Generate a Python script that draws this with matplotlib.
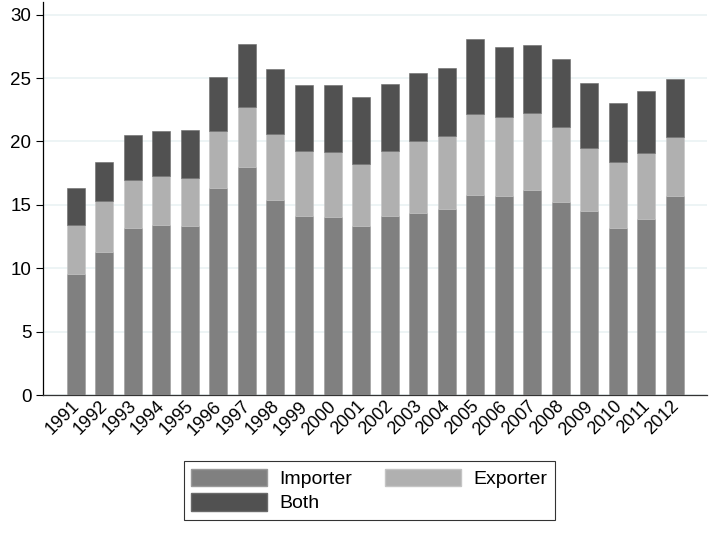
import numpy as np
import matplotlib
matplotlib.use('Agg')
import matplotlib.pyplot as plt
import matplotlib.transforms as mtransforms
from matplotlib.patches import Patch

plt.rcParams['font.family'] = ['Liberation Sans', 'DejaVu Sans']

years = [str(y) for y in range(1991, 2013)]
# cumulative tops
importer = [9.55, 11.28, 13.17, 13.41, 13.33, 16.33, 17.99, 15.38, 14.15, 14.02, 13.31,
            14.09, 14.36, 14.67, 15.78, 15.67, 16.20, 15.25, 14.51, 13.15, 13.91, 15.72]
imp_exp = [13.44, 15.28, 16.99, 17.28, 17.12, 20.80, 22.69, 20.62, 19.22, 19.14, 18.22,
           19.25, 20.04, 20.40, 22.17, 21.90, 22.22, 21.11, 19.51, 18.35, 19.09, 20.33]
total = [16.33, 18.38, 20.48, 20.83, 20.88, 25.11, 27.66, 25.74, 24.45, 24.45, 23.48,
         24.56, 25.40, 25.80, 28.08, 27.43, 27.58, 26.48, 24.61, 23.06, 24.01, 24.93]

exporter = np.array(imp_exp) - np.array(importer)
both = np.array(total) - np.array(imp_exp)

c_imp = '#808080'
c_exp = '#b0b0b0'
c_both = '#515151'

fig = plt.figure(figsize=(7.24, 5.45), dpi=100)
ax = fig.add_axes([0.0598, 0.2752, 0.9167, 0.7211])

x = np.arange(len(years))
w = 0.63
ax.bar(x, importer, w, color=c_imp, edgecolor='#9a9a9a', linewidth=0.4, zorder=3)
ax.bar(x, exporter, w, bottom=importer, color=c_exp, edgecolor='#c4c4c4', linewidth=0.4, zorder=3)
ax.bar(x, both, w, bottom=imp_exp, color=c_both, edgecolor='#6a6a6a', linewidth=0.4, zorder=3)

ax.set_xlim(-1.135, 22.12)
ax.set_ylim(0, 31)
ax.set_yticks(range(0, 31, 5))
ax.yaxis.grid(True, color='#eaf2f3', linewidth=1.2, zorder=0)
ax.set_axisbelow(True)

ax.set_xticks(x)
ax.set_xticklabels(years, rotation=45, ha='right', rotation_mode='anchor', fontsize=13)
ax.tick_params(axis='x', length=0, pad=2)
ax.tick_params(axis='y', labelsize=13.5, length=5, width=0.8, pad=3.5, direction='out')
# nudge year labels left so they end under the bar centres
shift = mtransforms.ScaledTranslation(-0.05, 0, fig.dpi_scale_trans)
for lab in ax.get_xticklabels():
    lab.set_transform(lab.get_transform() + shift)

for s in ['top', 'right']:
    ax.spines[s].set_visible(False)
ax.spines['left'].set_color('black')
ax.spines['bottom'].set_color('#333333')
ax.spines['left'].set_linewidth(0.9)
ax.spines['bottom'].set_linewidth(0.9)

handles = [Patch(facecolor=c_imp, edgecolor='#9a9a9a'),
           Patch(facecolor=c_both, edgecolor='#6a6a6a'),
           Patch(facecolor=c_exp, edgecolor='#c4c4c4')]
labels = ['Importer', 'Both', 'Exporter']
leg = fig.legend(handles, labels, ncol=2, loc='center', bbox_to_anchor=(0.510, 0.100),
                 fontsize=14, handlelength=3.9, handleheight=1.0, handletextpad=0.62,
                 columnspacing=1.7, labelspacing=0.27, borderpad=0.4, borderaxespad=0,
                 frameon=True, fancybox=False, edgecolor='black')
leg.get_frame().set_linewidth(0.8)

fig.savefig('out.png', dpi=100)
